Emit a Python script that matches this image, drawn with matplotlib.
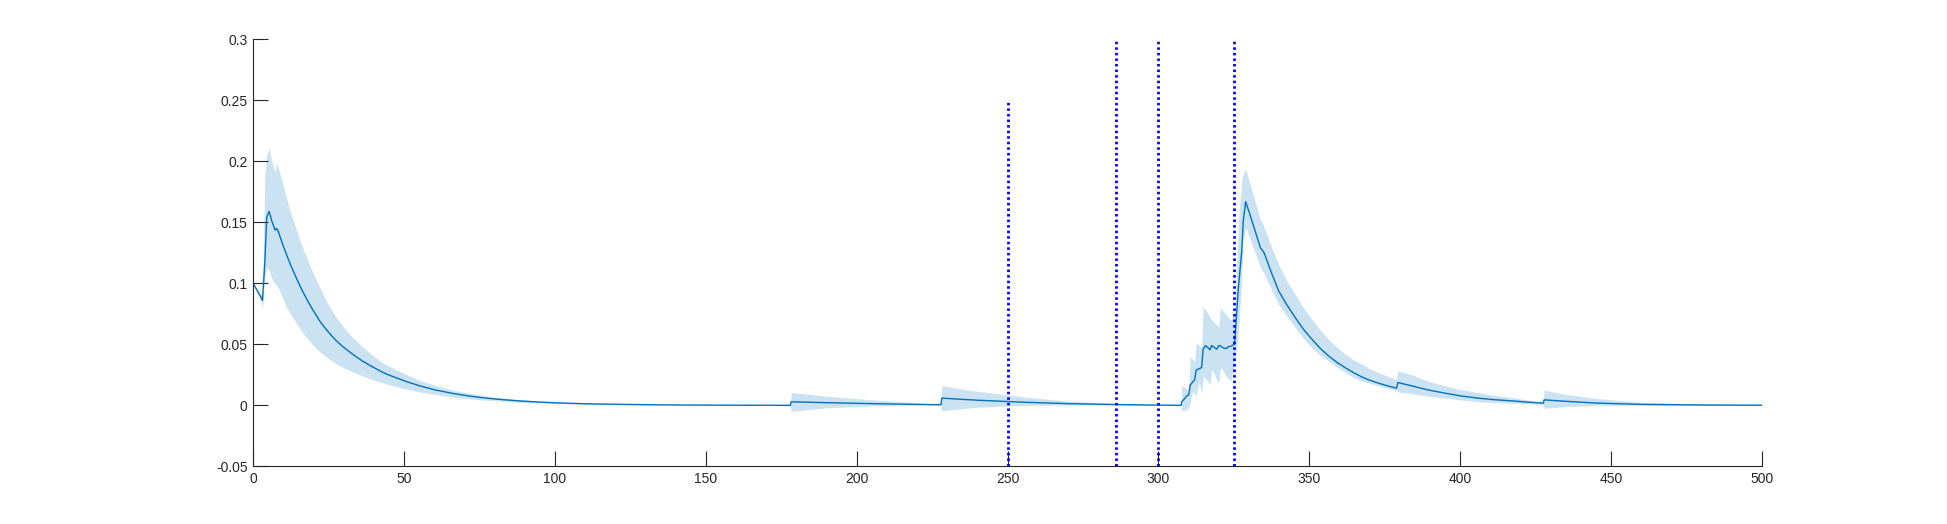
import matplotlib
matplotlib.use("Agg")
import matplotlib.pyplot as plt
import numpy as np

plt.rcParams['font.family'] = ['Liberation Sans', 'DejaVu Sans']

# points: x, mean, lower band, upper band
x_pts = [0, 2.5, 3.1, 3.9, 4.5, 5.3, 6.2, 7.3, 7.7, 8.2, 9.5, 11, 12.5, 14, 15.5, 16.6,
         18, 19.5, 21, 22.1, 24, 26, 27.6, 29.5, 31, 33.1, 36, 39, 42, 44.2, 47.5, 51,
         55.2, 60, 66.3, 72, 77.3, 83, 88.4, 94, 100, 110, 125, 140, 160, 178.0,
         178.3, 190, 205, 220, 227.9,
         228.2, 240, 255, 270, 290, 307.5,
         307.7, 308.5, 309.4, 310.0, 310.5, 311.3, 312.0, 312.5, 313.5, 314.3,
         314.8, 315.6, 316.5, 317.1, 317.6, 318.5, 319.3, 320.0, 320.5, 321.5,
         322.5, 323.1, 324.0, 325.2, 326.5, 327.6, 328.1, 328.9,
         331.0, 333.8, 334.5, 335.0, 337.4, 339.8, 342.5, 345.3, 348, 350.8, 353.5,
         356.3, 359, 361.8, 364.5, 367.3, 370, 372.9, 375.9, 378.9,
         379.3, 383.9, 389, 394.9, 400, 405.9, 411, 417.0, 422, 427.5,
         427.8, 435, 445.6, 460, 480, 500]

mean_val = [0.100, 0.089, 0.086, 0.118, 0.154, 0.159, 0.151, 0.1436, 0.145, 0.1436, 0.134, 0.124, 0.1146, 0.1061, 0.0981, 0.0926,
            0.086, 0.0795, 0.0735, 0.069, 0.0629, 0.0571, 0.0529, 0.0486, 0.0457, 0.0417, 0.0367, 0.0323, 0.0283, 0.0256, 0.0225, 0.0193,
            0.016, 0.0128, 0.0097, 0.0075, 0.0059, 0.0046, 0.0036, 0.0028, 0.0021, 0.0013, 0.0007, 0.0003, 0.0001, 0.0,
            0.0029, 0.0022, 0.0014, 0.0008, 0.0005,
            0.0059, 0.0042, 0.0026, 0.0014, 0.0005, 0.0,
            0.003, 0.005, 0.0078, 0.0085, 0.0165, 0.019, 0.021, 0.029, 0.030, 0.031,
            0.046, 0.049, 0.047, 0.0455, 0.049, 0.0475, 0.046, 0.049, 0.0488, 0.047,
            0.0465, 0.048, 0.0485, 0.050, 0.0966, 0.1266, 0.151, 0.167,
            0.151, 0.129, 0.127, 0.125, 0.109, 0.0939, 0.0825, 0.072, 0.0625, 0.0543, 0.047,
            0.0406, 0.0355, 0.031, 0.027, 0.0234, 0.0206, 0.0182, 0.016, 0.0141,
            0.0187, 0.016, 0.0128, 0.010, 0.0078, 0.0059, 0.0047, 0.0037, 0.0027, 0.0018,
            0.0045, 0.0033, 0.0018, 0.0008, 0.0003, 0.0001]

lower_val = [0.100, 0.087, 0.079, 0.105, 0.113, 0.111, 0.104, 0.099, 0.099, 0.097, 0.090, 0.0805, 0.0742, 0.0684, 0.063, 0.059,
             0.0546, 0.0503, 0.0464, 0.044, 0.0402, 0.0365, 0.034, 0.0315, 0.0296, 0.0274, 0.0243, 0.0215, 0.0191, 0.0175, 0.0153, 0.0132,
             0.011, 0.0089, 0.0068, 0.0053, 0.0042, 0.0033, 0.0025, 0.002, 0.0015, 0.0009, 0.0005, 0.0002, 0.0, 0.0,
             -0.005, -0.002, -0.0005, 0.0, 0.0003,
             -0.0045, -0.0015, 0.0, 0.0003, 0.0002, 0.0,
             -0.0045, -0.004, -0.004, -0.002, 0.002, 0.012, 0.009, 0.008, 0.0195, 0.010,
             0.024, 0.022, 0.019, 0.017, 0.030, 0.026, 0.021, 0.018, 0.031, 0.028,
             0.024, 0.022, 0.020, 0.033, 0.060, 0.105, 0.135, 0.146,
             0.132, 0.113, 0.110, 0.108, 0.095, 0.083, 0.073, 0.0638, 0.055, 0.0474, 0.041,
             0.0365, 0.0315, 0.0269, 0.023, 0.020, 0.018, 0.016, 0.014, 0.0123,
             0.011, 0.0095, 0.0075, 0.006, 0.0045, 0.003, 0.0024, 0.0018, 0.0012, 0.0008,
             -0.0025, -0.001, 0.0, 0.0, 0.0, 0.0]

upper_val = [0.100, 0.091, 0.090, 0.190, 0.205, 0.211, 0.200, 0.191, 0.199, 0.196, 0.185, 0.170, 0.1576, 0.1461, 0.1355, 0.128,
             0.1195, 0.1107, 0.1022, 0.0966, 0.087, 0.0781, 0.072, 0.0657, 0.061, 0.0555, 0.0484, 0.0421, 0.0366, 0.033, 0.029, 0.025,
             0.0205, 0.0165, 0.0125, 0.0097, 0.0076, 0.006, 0.0047, 0.0036, 0.0027, 0.0017, 0.0009, 0.0004, 0.0001, 0.0,
             0.0105, 0.0075, 0.0045, 0.002, 0.001,
             0.016, 0.0115, 0.0070, 0.0035, 0.001, 0.0,
             0.016, 0.015, 0.013, 0.011, 0.040, 0.038, 0.036, 0.051, 0.049, 0.047,
             0.081, 0.078, 0.075, 0.072, 0.070, 0.068, 0.066, 0.064, 0.080, 0.077,
             0.074, 0.072, 0.070, 0.075, 0.150, 0.184, 0.190, 0.1936,
             0.176, 0.152, 0.149, 0.146, 0.130, 0.1157, 0.102, 0.091, 0.080, 0.0707, 0.062,
             0.0543, 0.0478, 0.042, 0.0375, 0.0338, 0.030, 0.0269, 0.024, 0.0213,
             0.0283, 0.025, 0.020, 0.016, 0.013, 0.0105, 0.0083, 0.0065, 0.0045, 0.003,
             0.0125, 0.009, 0.0055, 0.0025, 0.001, 0.0003]

event_x = [250, 286, 300, 325]
event_top = [0.25, 0.3, 0.3, 0.3]

fig = plt.figure(figsize=(19.47, 5.24), dpi=100)
ax = fig.add_axes([0.13, 0.11, 0.775, 0.815])

ax.fill_between(x_pts, lower_val, upper_val, color="#cbe2f2", linewidth=0)
ax.plot(x_pts, mean_val, color="#0072BD", lw=1.0)

for ex, et in zip(event_x, event_top):
    ax.plot([ex, ex], [-0.05, et], color="#0000ff", lw=2.0, linestyle=(0, (0.9, 1.1)))

ax.set_xlim(0, 500)
ax.set_ylim(-0.05, 0.3)
ax.set_xticks(np.arange(0, 501, 50))
ax.set_yticks(np.arange(-0.05, 0.31, 0.05))
ax.set_yticklabels(["-0.05", "0", "0.05", "0.1", "0.15", "0.2", "0.25", "0.3"])

for s in ["top", "right"]:
    ax.spines[s].set_visible(False)
for s in ["left", "bottom"]:
    ax.spines[s].set_color("#262626")
    ax.spines[s].set_linewidth(0.8)
ax.tick_params(direction="in", length=10.8, width=0.8, color="#262626",
               labelsize=10, labelcolor="#262626", pad=4)

fig.savefig("out.png", dpi=100)
